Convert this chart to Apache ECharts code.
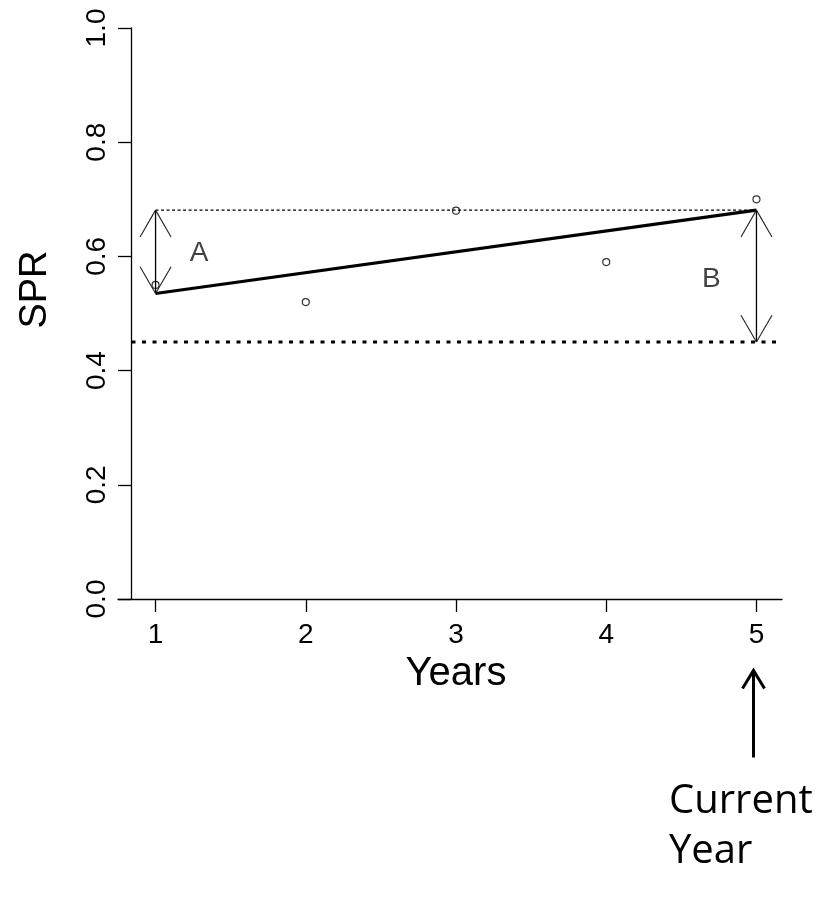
<!DOCTYPE html>
<html>
<head>
<meta charset="utf-8">
<script src="https://cdn.jsdelivr.net/npm/echarts@6/dist/echarts.min.js"></script>
<style>
  html, body { margin: 0; padding: 0; background: #fff; }
  #chart { width: 828px; height: 900px; }
</style>
</head>
<body>
<div id="chart"></div>
<script>
// Observed SPR by year
const years = [1, 2, 3, 4, 5];
const spr = [0.55, 0.52, 0.68, 0.59, 0.70];

// Fitted trend line, evaluated at the first and current year
const fitYears = [1, 5];
const fitSpr = [0.535, 0.681];

// Reference SPR level
const refLevel = 0.45;

// Axis ticks
const xTicks = [1, 2, 3, 4, 5];
const yTicks = [0, 0.2, 0.4, 0.6, 0.8, 1.0];

// Annotation letters: [year, SPR, text]
const letterA = [1.29, 0.606, 'A'];
const letterB = [4.70, 0.560, 'B'];

// Axis extents
const xMin = 0.75, xMax = 5.17, yAxisAt = 0.84;

const FONT = 'Liberation Sans, Arial, sans-serif';
const chart = echarts.init(document.getElementById('chart'), null, { renderer: 'canvas' });

// Vertical arrows: [x, yFrom, yTo, bothHeads]
const arrowData = [
  [fitYears[0], fitSpr[1], fitSpr[0], 1],   // A: gap between first-year fit and current fit
  [fitYears[1], fitSpr[1], refLevel, 1]     // B: current fit above the reference level
];

function headLines(tip, from, len, ang) {
  const dx = tip[0] - from[0], dy = tip[1] - from[1];
  const d = Math.sqrt(dx * dx + dy * dy) || 1;
  const ux = dx / d, uy = dy / d;
  const out = [];
  [ang, -ang].forEach(a => {
    const c = Math.cos(a), s = Math.sin(a);
    const rx = ux * c - uy * s, ry = ux * s + uy * c;
    out.push([tip[0] - len * rx, tip[1] - len * ry]);
  });
  return out;
}

function renderArrow(params, api) {
  const x = api.value(0), y1 = api.value(1), y2 = api.value(2), both = api.value(3);
  const p1 = api.coord([x, y1]);
  const p2 = api.coord([x, y2]);
  const children = [{
    type: 'line',
    shape: { x1: p1[0], y1: p1[1], x2: p2[0], y2: p2[1] },
    style: { stroke: '#000', lineWidth: 1.3 }
  }];
  const ang = Math.PI / 6, len = 31;
  const tips = both ? [[p1, p2], [p2, p1]] : [[p2, p1]];
  tips.forEach(([tip, from]) => {
    headLines(tip, from, len, ang).forEach(e => {
      children.push({
        type: 'line',
        shape: { x1: tip[0], y1: tip[1], x2: e[0], y2: e[1] },
        style: { stroke: '#222', lineWidth: 1.1 }
      });
    });
  });
  return { type: 'group', children };
}

const option = {
  backgroundColor: '#fff',
  animation: false,
  grid: { left: 118, right: 46, top: 28, bottom: 301, containLabel: false },
  xAxis: {
    type: 'value',
    min: xMin,
    max: xMax,
    splitLine: { show: false },
    axisLine: { onZero: false, lineStyle: { color: '#000', width: 1.3 } },
    axisTick: { customValues: xTicks, length: 13, lineStyle: { color: '#000', width: 1.3 } },
    axisLabel: { customValues: xTicks, fontSize: 28, color: '#000', fontFamily: FONT, margin: 22 },
    name: 'Years',
    nameLocation: 'middle',
    nameGap: 54,
    nameTextStyle: { fontSize: 40, color: '#000', fontFamily: FONT, padding: [0, 0, 0, 12] }
  },
  yAxis: {
    type: 'value',
    min: 0,
    max: 1,
    interval: 0.2,
    offset: -13,
    splitLine: { show: false },
    axisLine: { show: true, lineStyle: { color: '#000', width: 1.3 } },
    axisTick: { show: true, length: 13, lineStyle: { color: '#000', width: 1.3 } },
    axisLabel: {
      rotate: 90, fontSize: 28, color: '#000', fontFamily: FONT, margin: 20,
      formatter: v => yTicks.some(t => Math.abs(t - v) < 1e-9) ? v.toFixed(1) : ''
    },
    name: 'SPR',
    nameLocation: 'middle',
    nameGap: 76,
    nameTextStyle: { fontSize: 38, color: '#000', fontFamily: FONT, padding: [0, 0, 0, 48] }
  },
  series: [
    {
      // reference level across the plotting region
      type: 'line',
      data: [[yAxisAt, refLevel], [xMax, refLevel]],
      symbol: 'none',
      clip: false,
      lineStyle: { color: '#000', width: 3, type: [4, 6.5] },
      z: 2
    },
    {
      // current fitted level carried back to year 1
      type: 'line',
      data: [[fitYears[0], fitSpr[1]], [fitYears[1], fitSpr[1]]],
      symbol: 'none',
      lineStyle: { color: '#000', width: 1.3, type: [3, 2.5] },
      z: 2
    },
    {
      // fitted trend
      type: 'line',
      data: fitYears.map((y, i) => [y, fitSpr[i]]),
      symbol: 'none',
      lineStyle: { color: '#000', width: 3.2 },
      z: 3
    },
    {
      type: 'scatter',
      data: years.map((y, i) => [y, spr[i]]),
      symbol: 'circle',
      symbolSize: 7,
      itemStyle: { color: 'rgba(255,255,255,0)', borderColor: '#000', borderWidth: 1.2 },
      z: 4
    },
    {
      type: 'custom',
      renderItem: renderArrow,
      data: arrowData,
      clip: false,
      z: 5
    },
    {
      type: 'scatter',
      data: [letterA, letterB],
      symbolSize: 0,
      label: {
        show: true, position: 'inside', formatter: p => p.value[2],
        fontSize: 28, color: '#111', fontFamily: FONT
      },
      z: 6
    }
  ],
  graphic: [
    {
      // "Current Year" pointer under year 5
      type: 'group',
      left: 740,
      top: 668,
      children: [
        { type: 'line', shape: { x1: 12, y1: 1, x2: 12, y2: 88 }, style: { stroke: '#000', lineWidth: 3 } },
        { type: 'polyline', shape: { points: [[1, 19], [12, 1], [23, 19]] }, style: { stroke: '#000', lineWidth: 3, fill: null } }
      ]
    },
    {
      type: 'text',
      left: 669,
      top: 777,
      style: {
        text: 'Current\nYear',
        font: '40px "Open Sans", sans-serif',
        lineHeight: 50,
        fill: '#000'
      }
    }
  ]
};

chart.setOption(option);
</script>
</body>
</html>
